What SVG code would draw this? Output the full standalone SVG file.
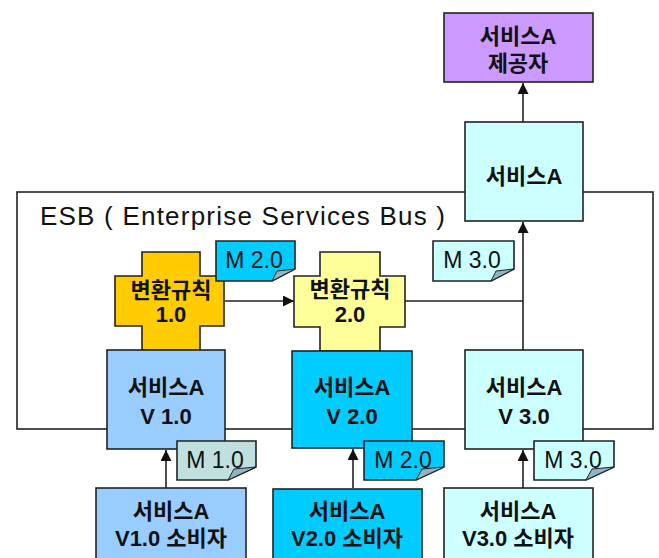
<svg xmlns="http://www.w3.org/2000/svg" width="659" height="558" viewBox="0 0 659 558">
<style>
.box{stroke:#222;stroke-width:1.6}
.t{font-family:"Liberation Sans","Noto Sans CJK KR",sans-serif;font-size:22px;font-weight:bold;fill:#111;text-anchor:middle;dominant-baseline:central}
.m{font-family:"Liberation Sans","Noto Sans CJK KR",sans-serif;font-size:23px;fill:#111;text-anchor:middle;dominant-baseline:central}
.esb{font-family:"Liberation Sans",sans-serif;font-size:26px;fill:#111}
.ln{stroke:#222;stroke-width:1.6;fill:none}
.fold{stroke:#222;stroke-width:1;fill:#8fb4c4}
</style>
<defs>
<marker id="ah" viewBox="0 0 10 10" refX="10" refY="5" markerWidth="11" markerHeight="11" markerUnits="userSpaceOnUse" orient="auto">
<path d="M0,0 L10,5 L0,10 z" fill="#111"/>
</marker>
</defs>
<rect width="659" height="558" fill="#ffffff"/>
<g id="esb">
<rect x="17" y="192" width="636" height="237" fill="none" stroke="#222" stroke-width="1.6"/>
<text class="esb" x="40" y="225" textLength="405" lengthAdjust="spacing">ESB ( Enterprise Services Bus )</text>
</g>
<g id="connectors">
<path class="ln" d="M523,122 V83" marker-end="url(#ah)"/>
<path class="ln" d="M523,350 V222" marker-end="url(#ah)"/>
<path class="ln" d="M405,301 H523"/>
<path class="ln" d="M225,301 H294" marker-end="url(#ah)"/>
<path class="ln" d="M166,488 V450" marker-end="url(#ah)"/>
<path class="ln" d="M353,488 V449" marker-end="url(#ah)"/>
<path class="ln" d="M523,488 V450" marker-end="url(#ah)"/>
</g>
<g id="provider">
<rect class="box" x="444" y="13" width="149" height="69" fill="#cc99ff"/>
<text class="t" x="518" y="36">서비스A</text>
<text class="t" x="518" y="63">제공자</text>
</g>
<g id="serviceA">
<rect class="box" x="465" y="122" width="118" height="99" fill="#ccffff"/>
<text class="t" x="524" y="176">서비스A</text>
</g>
<g id="rule1">
<path class="box" d="M142,252 H200 V276 H224 V326 H200 V350 H142 V326 H115 V276 H142 Z" fill="#ffcc00"/>
<text class="t" x="171" y="290">변환규칙</text>
<text class="t" x="171" y="314">1.0</text>
</g>
<g id="rule2">
<path class="box" d="M320,252 H380 V276 H405 V327 H380 V351 H320 V327 H294 V276 H320 Z" fill="#ffff99"/>
<text class="t" x="350" y="289">변환규칙</text>
<text class="t" x="350" y="314">2.0</text>
</g>
<g id="v1">
<rect class="box" x="107" y="350" width="118" height="99" fill="#99ccff"/>
<text class="t" x="166" y="387">서비스A</text>
<text class="t" x="166" y="416">V 1.0</text>
</g>
<g id="v2">
<rect class="box" x="292" y="351" width="120" height="97" fill="#00ccff"/>
<text class="t" x="352" y="387">서비스A</text>
<text class="t" x="352" y="416">V 2.0</text>
</g>
<g id="v3">
<rect class="box" x="465" y="350" width="118" height="99" fill="#ccffff"/>
<text class="t" x="524" y="387">서비스A</text>
<text class="t" x="524" y="416">V 3.0</text>
</g>
<g id="noteUpper20">
<path class="box" d="M216,241 H295 V269 L272,281 H216 Z" fill="#00ccff"/>
<path class="fold" d="M295,269 L272,281 L277,271 Z"/>
<text class="m" x="254" y="260">M 2.0</text>
</g>
<g id="noteUpper30">
<path class="box" d="M433,241 H514 V269 L491,281 H433 Z" fill="#ccffff"/>
<path class="fold" d="M514,269 L491,281 L496,271 Z"/>
<text class="m" x="472" y="260">M 3.0</text>
</g>
<g id="noteM10">
<path class="box" d="M177,441 H256 V467 L228,480 H177 Z" fill="#c0e0e0"/>
<path class="fold" d="M256,467 L228,480 L234,469 Z"/>
<text class="m" x="215" y="460">M 1.0</text>
</g>
<g id="noteM20">
<path class="box" d="M364,441 H444 V467 L416,480 H364 Z" fill="#00ccff"/>
<path class="fold" d="M444,467 L416,480 L422,469 Z"/>
<text class="m" x="403" y="460">M 2.0</text>
</g>
<g id="noteM30">
<path class="box" d="M534,441 H614 V467 L586,480 H534 Z" fill="#ccffff"/>
<path class="fold" d="M614,467 L586,480 L592,469 Z"/>
<text class="m" x="573" y="460">M 3.0</text>
</g>
<g id="consumer1">
<rect class="box" x="96" y="488" width="150" height="80" fill="#99ccff"/>
<text class="t" x="171" y="511">서비스A</text>
<text class="t" x="171" y="538">V1.0 소비자</text>
</g>
<g id="consumer2">
<rect class="box" x="273" y="489" width="149" height="80" fill="#00ccff"/>
<text class="t" x="347" y="511">서비스A</text>
<text class="t" x="347" y="538">V2.0 소비자</text>
</g>
<g id="consumer3">
<rect class="box" x="444" y="488" width="149" height="80" fill="#ccffff"/>
<text class="t" x="518" y="511">서비스A</text>
<text class="t" x="518" y="538">V3.0 소비자</text>
</g>
</svg>
